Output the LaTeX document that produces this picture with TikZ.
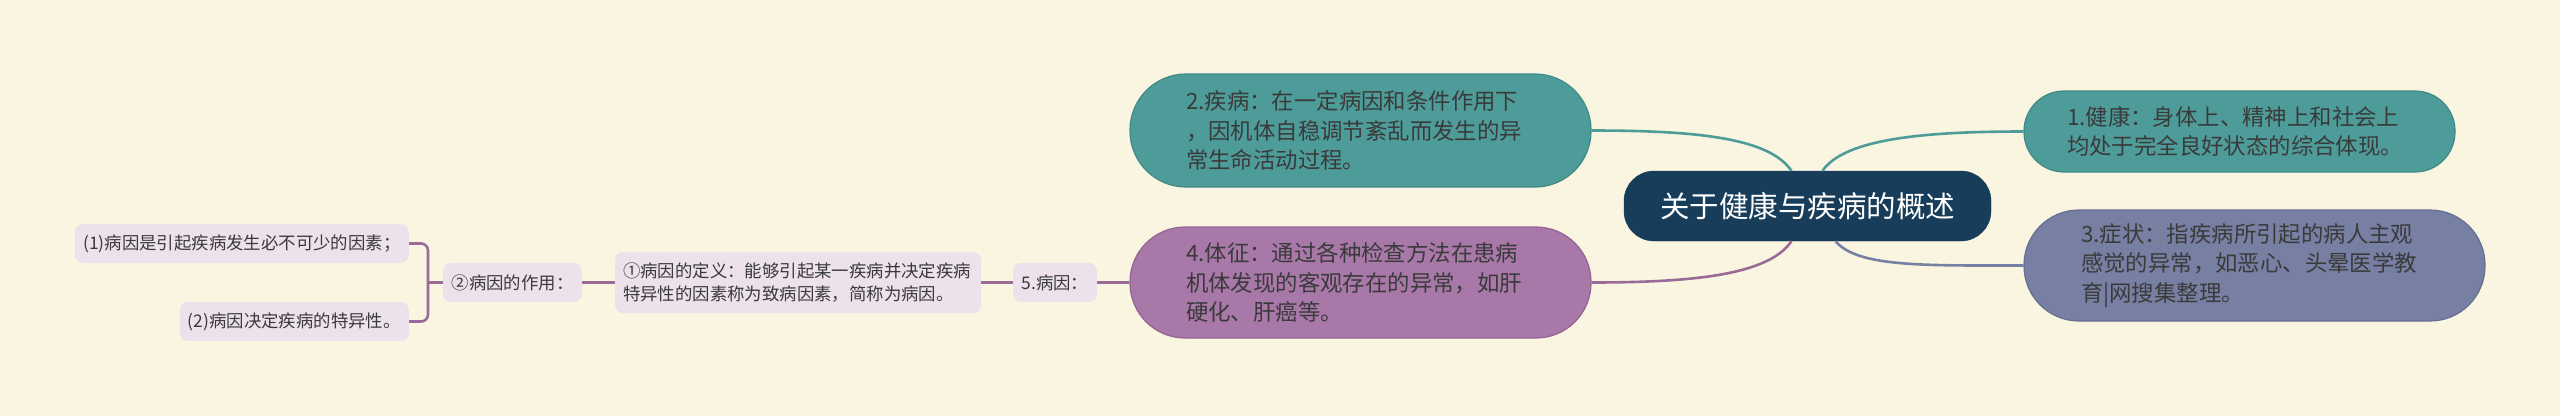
\documentclass[tikz,border=0pt]{standalone}
\usepackage{fontspec}
\setmainfont{Noto Sans CJK SC}
\usetikzlibrary{calc}
\definecolor{bg}{HTML}{FAF5E0}
\definecolor{txt}{HTML}{3A3A3A}
\definecolor{tealc}{HTML}{4E9C99}
\definecolor{tealb}{HTML}{3F8A87}
\definecolor{purc}{HTML}{A878A8}
\definecolor{purb}{HTML}{946494}
\definecolor{slatec}{HTML}{7780A3}
\definecolor{slateb}{HTML}{666F92}
\definecolor{rootc}{HTML}{173D5A}
\definecolor{smallc}{HTML}{EDE2EB}
\definecolor{pline}{HTML}{9A6B98}
\begin{document}
\begin{tikzpicture}[x=1pt,y=-1pt,
  bignode/.style={text=txt, align=left, inner ysep=0pt, line width=1.2pt,
    font=\fontsize{22.4}{29.5}\selectfont},
  smallnode/.style={text=txt, fill=smallc, rounded corners=8pt, inner ysep=0pt,
    minimum height=39pt, font=\fontsize{17.4}{23}\selectfont},
  conn/.style={line width=2.6pt},
  sconn/.style={line width=2.6pt, draw=pline}
]
\fill[bg] (0,0) rectangle (2560,416);

% root
\node[fill=rootc, draw=rootc, rounded corners=30pt, minimum width=367pt, minimum height=70pt,
  text=white, font=\fontsize{29.5}{34}\selectfont, inner sep=0pt] (root) at (1807.5,206) {关于健康与疾病的概述};

% main branches
\node[bignode, fill=tealc, draw=tealb, rounded corners=56pt, text width=349pt, inner xsep=56pt,
  minimum height=113pt] (n2) at (1360.5,130.5)
  {2.疾病：在一定病因和条件作用下\\，因机体自稳调节紊乱而发生的异\\常生命活动过程。};
\node[bignode, fill=purc, draw=purb, rounded corners=55pt, text width=349pt, inner xsep=56pt,
  minimum height=111pt] (n4) at (1360.5,282.5)
  {4.体征：通过各种检查方法在患病\\机体发现的客观存在的异常，如肝\\硬化、肝癌等。};
\node[bignode, fill=tealc, draw=tealb, rounded corners=40pt, text width=345pt, inner xsep=43pt,
  minimum height=81pt] (n1) at (2239.5,131.5)
  {1.健康：身体上、精神上和社会上\\均处于完全良好状态的综合体现。};
\node[bignode, fill=slatec, draw=slateb, rounded corners=55pt, text width=347pt, inner xsep=57pt,
  minimum height=111pt] (n3) at (2254.5,265.5)
  {3.症状：指疾病所引起的病人主观\\感觉的异常，如恶心、头晕医学教\\育|网搜集整理。};

% small nodes
\node[smallnode, minimum width=84pt] (n5) at (1055,282.5) {5.病因：};
\node[smallnode, text width=350pt, inner xsep=8pt, minimum height=61pt, align=left] (ndef) at (798,282.5)
  {①病因的定义：能够引起某一疾病并决定疾病\\特异性的因素称为致病因素，简称为病因。};
\node[smallnode, minimum width=139pt] (nrole) at (512.5,282.5) {②病因的作用：};
\node[smallnode, minimum width=334pt, anchor=east] (na) at (409,243.5) {(1)病因是引起疾病发生必不可少的因素；};
\node[smallnode, minimum width=229pt, anchor=east] (nb) at (409,321.5) {(2)病因决定疾病的特异性。};

% root connectors
\draw[conn, draw=tealc] ([xshift=-16pt]root.north) .. controls +(-22,-32) and +(110,0) .. (n2.east);
\draw[conn, draw=pline] ([xshift=-16pt]root.south) .. controls +(-22,32) and +(110,0) .. (n4.east);
\draw[conn, draw=tealc] ([xshift=15pt]root.north) .. controls +(22,-32) and +(-100,0) .. (n1.west);
\draw[conn, draw=slatec] ([xshift=28pt]root.south) .. controls +(22,26) and +(-100,0) .. (n3.west);

% left chain
\draw[sconn] (n4.west) -- (n5.east);
\draw[sconn] (n5.west) -- (ndef.east);
\draw[sconn] (ndef.west) -- (nrole.east);
\coordinate (brk) at (428,282.5);
\draw[sconn] (nrole.west) -- (brk);
\draw[sconn, rounded corners=7pt] (na.east) -| (brk) |- (nb.east);
\end{tikzpicture}
\end{document}
